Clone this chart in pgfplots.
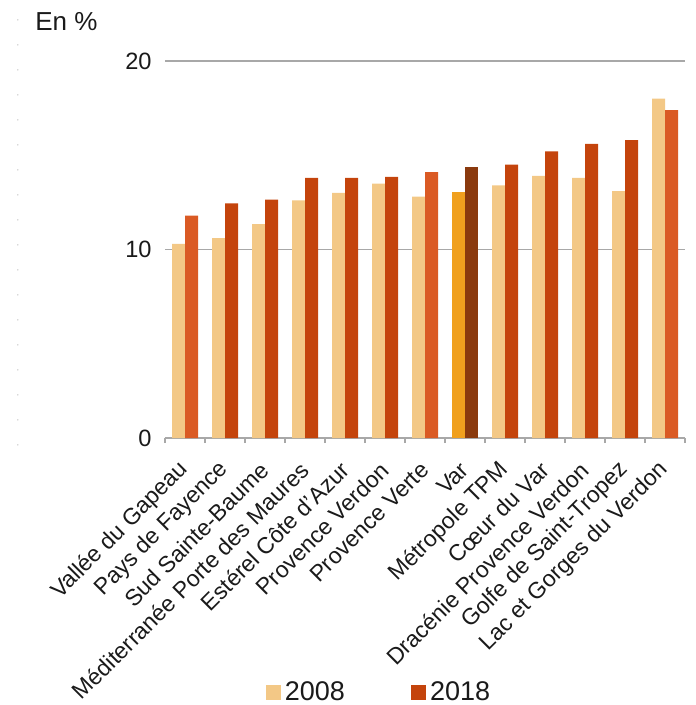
\documentclass[border=0pt]{standalone}
\usepackage{pgfplots}
\pgfplotsset{compat=1.18}
\usepackage{fontspec}
\setmainfont{Liberation Sans}
\definecolor{c08}{HTML}{F3C886}
\definecolor{c18}{HTML}{C4440C}
\definecolor{c18l}{HTML}{DA5A24}
\definecolor{v08}{HTML}{F0A01E}
\definecolor{v18}{HTML}{8A3A0E}
\definecolor{txt}{HTML}{1A1A1A}
\definecolor{gridc}{HTML}{A8A8A8}
\begin{document}
\begin{tikzpicture}
\path[use as bounding box] (-82.5pt,-133.5pt) rectangle (265pt,219pt);
\begin{axis}[
  at={(0pt,0pt)}, anchor=south west,
  scale only axis, width=260pt, height=188.5pt,
  clip mode=individual,
  xmin=-0.5, xmax=12.5, ymin=0, ymax=20,
  ybar, bar width=6.5pt,
  axis x line*=bottom, axis y line*=left,
  y axis line style={draw=none},
  x axis line style={gridc, line width=0.7pt},
  ytick={0,10,20},
  /pgf/number format/assume math mode=true,
  ymajorgrids, grid style={gridc, line width=0.7pt},
  major tick length=0pt,
  xtick={0,...,12},
  minor xtick={-0.5,0.5,...,12.5},
  minor tick length=2.5pt, tick align=outside,
  minor tick style={gridc, line width=0.7pt},
  xticklabels={Vallée du Gapeau, Pays de Fayence, Sud Sainte-Baume, Méditerranée Porte des Maures, Estérel Côte d’Azur, Provence Verdon, Provence Verte, Var, Métropole TPM, Cœur du Var, Dracénie Provence Verdon, Golfe de Saint-Tropez, Lac et Gorges du Verdon},
  xticklabel style={xshift=0pt, yshift=-14pt, rotate=45, anchor=east, inner sep=0pt, font=\fontsize{11.5}{13}\selectfont, text=txt},
  yticklabel style={inner sep=0pt, xshift=-6.5pt, font=\fontsize{11.8}{13}\selectfont, text=txt},
  legend style={at={(0.4135,-0.676)}, anchor=center, draw=none, fill=none,
    legend columns=2, font=\fontsize{13.5}{16}\selectfont, text=txt,
    /tikz/every even column/.append style={column sep=31pt},
    nodes={inner sep=2pt}},
  legend image code/.code={\fill[#1] (0pt,-3.75pt) rectangle (7.5pt,3.75pt);},
]
% 2008
\addplot[fill=c08, draw=none, bar shift=-3.25pt] coordinates {
(0,10.3) (1,10.6) (2,11.35) (3,12.6) (4,13.0) (5,13.5) (6,12.8)
(8,13.4) (9,13.9) (10,13.8) (11,13.1) (12,18.0)};
\addlegendentry{2008}
% 2018
\addplot[fill=c18, draw=none, bar shift=3.25pt] coordinates {
(1,12.45) (2,12.65) (3,13.8) (4,13.8) (5,13.85)
(8,14.5) (9,15.2) (10,15.6) (11,15.8)};
\addlegendentry{2018}
\addplot[fill=c18l, draw=none, bar shift=3.25pt, forget plot] coordinates {
(0,11.8) (6,14.1) (12,17.4)};
% Var
\addplot[fill=v08, draw=none, bar shift=-3.25pt, forget plot] coordinates {(7,13.05)};
\addplot[fill=v18, draw=none, bar shift=3.25pt, forget plot] coordinates {(7,14.35)};
\draw[gray!70, line width=0.6pt, line cap=round, dash pattern=on 0pt off 12.5pt]
  (axis description cs:-0.283,1.109) -- (axis description cs:-0.283,-0.02);
\node[anchor=base west, inner sep=0pt, font=\fontsize{13}{15}\selectfont, text=txt]
  at (axis description cs:-0.25,1.082) {En \%};
\end{axis}
\end{tikzpicture}
\end{document}
